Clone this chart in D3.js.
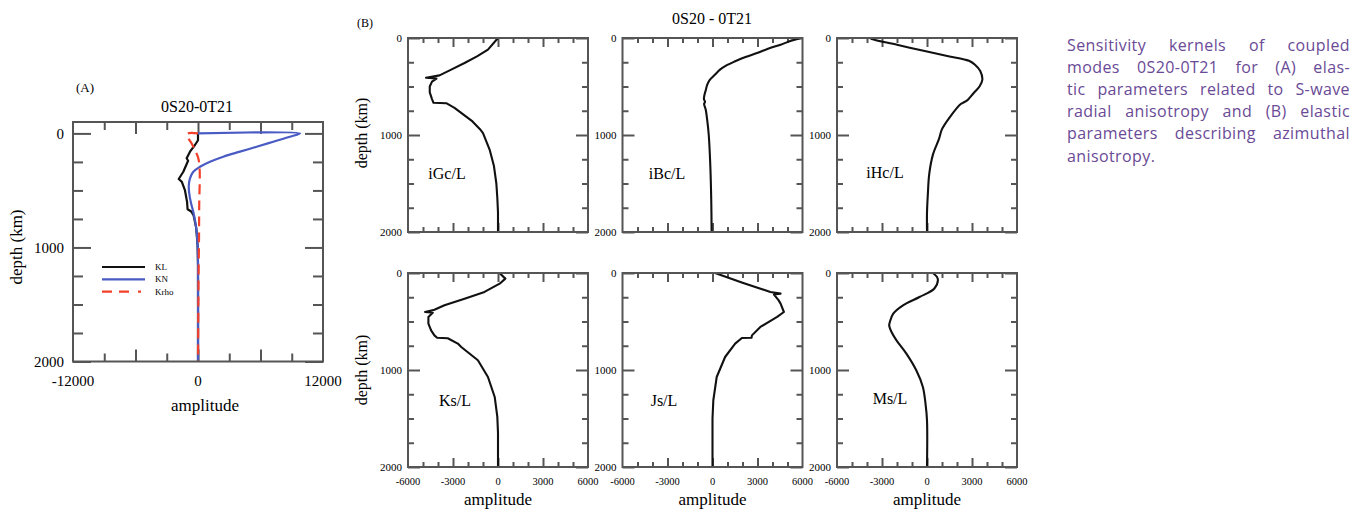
<!DOCTYPE html>
<html><head><meta charset="utf-8">
<script src="https://cdn.jsdelivr.net/npm/d3@7"></script>
<style>body{margin:0;background:#fff}svg{display:block}</style>
</head><body>
<svg id="c" width="1362" height="510"></svg>
<script>
// ---------- DATA: [amplitude, depth(km)] ----------
// Panel (A)
const KL   = [[0,0],[0,60],[-290,102],[-770,160],[-1090,218],[-950,240],[-1410,336],[-1850,400],[-1550,425],[-1250,500],[-1050,600],[-1000,665],[-650,685],[-420,720],[-170,830],[-40,980],[0,1150],[0,2000]];
const KN   = [[0,0],[9800,0],[8830,29],[7230,73],[5630,117],[4030,160],[2430,204],[1150,248],[190,292],[-450,336],[-770,394],[-880,453],[-850,520],[-700,600],[-420,700],[-170,830],[-40,980],[0,1150],[0,2000]];
const Krho = [[0,0],[-1000,2],[-930,40],[-600,90],[-290,145],[30,218],[150,300],[170,400],[120,600],[100,900],[50,1300],[20,1700],[0,2000]];
const seriesA = ["KL","KN","Krho"];
// Panel (B)
const iGcL = [[0,0],[-670,120],[-1400,190],[-2230,258],[-3120,326],[-3900,385],[-4800,410],[-4100,418],[-4400,450],[-4550,500],[-4550,560],[-4400,630],[-4300,668],[-3450,672],[-2900,720],[-2300,790],[-1700,860],[-1200,940],[-1000,980],[-560,1150],[-270,1320],[-110,1500],[-45,1650],[0,1800],[0,2000]];
const iBcL = [[0,0],[5880,0],[5300,25],[4540,69],[3700,110],[2970,155],[2200,195],[1510,240],[900,285],[500,326],[150,380],[-170,430],[-350,480],[-440,533],[-540,590],[-570,630],[-500,660],[-560,680],[-450,740],[-350,850],[-250,1000],[-150,1300],[-80,1700],[-60,2000]];
const iHcL = [[0,0],[-3800,3],[-2000,70],[0,140],[1500,190],[2500,222],[2800,235],[3200,275],[3550,340],[3690,430],[3500,500],[3100,570],[2700,640],[2400,668],[2250,680],[1500,820],[1000,940],[800,1040],[400,1200],[150,1400],[60,1600],[0,1800],[0,2000]];
const KsL  = [[100,0],[490,58],[110,110],[-900,195],[-2230,265],[-3570,333],[-4240,378],[-4860,402],[-4350,410],[-4640,453],[-4640,522],[-4460,591],[-4240,643],[-4060,667],[-3350,673],[-2680,728],[-2450,763],[-1340,900],[-670,1072],[-220,1278],[-45,1484],[0,1650],[0,2000]];
const JsL  = [[170,0],[2000,100],[3860,196],[4540,213],[4100,222],[4400,280],[4540,316],[4760,402],[4310,453],[3190,556],[2630,643],[2600,667],[1960,670],[1510,728],[840,866],[280,1072],[55,1312],[0,1500],[0,2000]];
const MsL  = [[385,0],[715,58],[490,160],[-500,247],[-1600,333],[-2250,419],[-2475,505],[-2520,540],[-2365,608],[-2035,694],[-1375,831],[-715,1003],[-275,1175],[-100,1347],[0,1520],[0,2000]];
const panelLabelsB = ["iGc/L","iBc/L","iHc/L","Ks/L","Js/L","Ms/L"];
// tick labels
const xTicksA = [-12000, 0, 12000];
const yTicksA = [0, 1000, 2000];
const xTicksB = [-6000, -3000, 0, 3000, 6000];
const yTicksB = [0, 1000, 2000];
const captionLines = [
  "Sensitivity kernels of coupled",
  "modes 0S20-0T21 for (A) elas-",
  "tic parameters related to S-wave",
  "radial anisotropy and (B) elastic",
  "parameters describing azimuthal",
  "anisotropy."
];

// ---------- DRAWING ----------
const svg = d3.select("#c");
const serif = "Liberation Serif, serif";
const frameColor = "#555";
let clipN = 0;

function drawPanel(cfg) {
  const g = svg.append("g");
  const x = d3.scaleLinear().domain(cfg.xDomain).range([cfg.left, cfg.right]);
  const y = d3.scaleLinear().domain(cfg.yDomain).range([cfg.top, cfg.bottom]);
  const cid = "clip" + (clipN++);
  svg.append("clipPath").attr("id", cid).append("rect")
    .attr("x", cfg.left).attr("y", cfg.top)
    .attr("width", cfg.right - cfg.left).attr("height", cfg.bottom - cfg.top);

  const tickSet = (vals, len, w) => {
    const ax = [
      [d3.axisTop(x), `translate(0,${cfg.top})`, vals.x],
      [d3.axisBottom(x), `translate(0,${cfg.bottom})`, vals.x],
      [d3.axisLeft(y), `translate(${cfg.left},0)`, vals.y],
      [d3.axisRight(y), `translate(${cfg.right},0)`, vals.y]
    ];
    ax.forEach(([a, tr, v], i) => {
      const L = i < 2 ? len.x : len.y;
      g.append("g").attr("transform", tr)
        .call(a.tickValues(v).tickSize(-L).tickFormat(""))
        .call(s => s.select(".domain").remove())
        .selectAll("line").attr("stroke", frameColor).attr("stroke-width", w);
    });
  };
  const inner = (arr) => arr.filter(v => v > Math.min(...cfg.xDomain) && v < Math.max(...cfg.xDomain));
  const xs = d3.range(cfg.xDomain[0], cfg.xDomain[1] + 1, cfg.xStep);
  const ys = d3.range(0, 2001, cfg.yStep);
  const xMaj = inner(xs.filter(v => v % cfg.xMajor === 0));
  const xMin = inner(xs.filter(v => v % cfg.xMajor !== 0));
  const yMaj = ys.filter(v => v % 1000 === 0);
  const yMin = ys.filter(v => v % 1000 !== 0);
  tickSet({x: xMin, y: yMin}, {x: cfg.xMinLen, y: cfg.yMinLen}, cfg.tickW);
  tickSet({x: xMaj, y: yMaj}, {x: cfg.xMajLen, y: cfg.yMajLen}, cfg.tickW);

  const line = d3.line().x(d => x(d[0])).y(d => y(d[1]));
  cfg.series.forEach(s => {
    g.append("path").attr("d", line.curve(s.curve || d3.curveLinear)(s.data))
      .attr("fill", "none").attr("stroke", s.color).attr("stroke-width", s.width || 2)
      .attr("stroke-dasharray", s.dash || null)
      .attr("stroke-linejoin", "round")
      .attr("clip-path", `url(#${cid})`);
  });

  g.append("rect").attr("x", cfg.left).attr("y", cfg.top)
    .attr("width", cfg.right - cfg.left).attr("height", cfg.bottom - cfg.top)
    .attr("fill", "none").attr("stroke", frameColor).attr("stroke-width", cfg.frameW);

  if (cfg.yLabels) {
    cfg.yLabels.forEach(v => g.append("text").attr("x", cfg.left - cfg.yLabPad).attr("y", y(v))
      .attr("dy", "0.35em").attr("text-anchor", "end")
      .attr("font-family", serif).attr("font-size", cfg.yLabSize).text(v));
  }
  if (cfg.xLabels) {
    cfg.xLabels.forEach(v => g.append("text").attr("x", x(v)).attr("y", cfg.xLabY)
      .attr("text-anchor", "middle")
      .attr("font-family", serif).attr("font-size", cfg.xLabSize).text(v));
  }
  return {x, y, g};
}

// ----- Panel A -----
const colorsA = {KL: "#111", KN: "#4a5cc4", Krho: "#f2402a"};
drawPanel({
  left: 73, right: 323, top: 122, bottom: 361.5,
  xDomain: [-12000, 12000], yDomain: [-100, 2000],
  xStep: 3000, xMajor: 6000, yStep: 250,
  xMinLen: 8, xMajLen: 12, yMinLen: 10, yMajLen: 18,
  tickW: 2, frameW: 2,
  series: [
    {data: KL, color: colorsA.KL, width: 2.2},
    {data: KN, color: colorsA.KN, width: 2.2, curve: d3.curveCatmullRom.alpha(0.5)},
    {data: Krho, color: colorsA.Krho, width: 2.2, dash: "10,6", curve: d3.curveCatmullRom.alpha(0.5)}
  ],
  yLabels: yTicksA, yLabPad: 9, yLabSize: 15,
  xLabels: xTicksA, xLabY: 386, xLabSize: 15
});
svg.append("text").attr("x", 85).attr("y", 92).attr("text-anchor", "middle")
  .attr("font-family", serif).attr("font-size", 13).text("(A)");
svg.append("text").attr("x", 197).attr("y", 112).attr("text-anchor", "middle")
  .attr("font-family", serif).attr("font-size", 16).text("0S20-0T21");
svg.append("text").attr("x", 205).attr("y", 411).attr("text-anchor", "middle")
  .attr("font-family", serif).attr("font-size", 17).text("amplitude");
svg.append("text").attr("transform", "translate(22,247) rotate(-90)").attr("text-anchor", "middle")
  .attr("font-family", serif).attr("font-size", 17).text("depth (km)");
// legend
seriesA.forEach((k, i) => {
  const yy = 267 + i * 12.3;
  svg.append("line").attr("x1", 102).attr("x2", 145).attr("y1", yy).attr("y2", yy)
    .attr("stroke", colorsA[k]).attr("stroke-width", 2.2)
    .attr("stroke-dasharray", k === "Krho" ? "10,7,10,9,3,7" : null);
  svg.append("text").attr("x", 155).attr("y", yy + 3).attr("font-family", serif)
    .attr("font-size", 9).text(k);
});

// ----- Panel B -----
const dataB = [iGcL, iBcL, iHcL, KsL, JsL, MsL];
const colLeft = [408, 622.5, 837];
const rowTop = [38, 273];
const labPos = [[447,179],[667,179],[885,178],[455,406],[664,406],[890,404]];
dataB.forEach((d, i) => {
  const c = i % 3, r = Math.floor(i / 3);
  const smooth = (i === 1 || i === 2 || i === 5);
  drawPanel({
    left: colLeft[c], right: colLeft[c] + 180, top: rowTop[r], bottom: rowTop[r] + 194,
    xDomain: [-6000, 6000], yDomain: [0, 2000],
    xStep: 1000, xMajor: 3000, yStep: 250,
    xMinLen: 5, xMajLen: 9, yMinLen: 6, yMajLen: 12,
    tickW: 2, frameW: 2,
    series: [{data: d, color: "#111", width: 2.1, curve: smooth ? d3.curveCatmullRom.alpha(0.5) : d3.curveLinear}],
    yLabels: yTicksB, yLabPad: 6, yLabSize: 11,
    xLabels: r === 1 ? xTicksB : null, xLabY: 485, xLabSize: 10.5
  });
  svg.append("text").attr("x", labPos[i][0]).attr("y", labPos[i][1]).attr("text-anchor", "middle")
    .attr("font-family", serif).attr("font-size", 16).text(panelLabelsB[i]);
  if (r === 1) {
    svg.append("text").attr("x", colLeft[c] + 90).attr("y", 505).attr("text-anchor", "middle")
      .attr("font-family", serif).attr("font-size", 17).text("amplitude");
  }
});
svg.append("text").attr("x", 365).attr("y", 27).attr("text-anchor", "middle")
  .attr("font-family", serif).attr("font-size", 12).text("(B)");
svg.append("text").attr("x", 712).attr("y", 24).attr("text-anchor", "middle")
  .attr("font-family", serif).attr("font-size", 16).text("0S20 - 0T21");
[133, 370].forEach(cy => svg.append("text").attr("transform", `translate(367,${cy}) rotate(-90)`)
  .attr("text-anchor", "middle").attr("font-family", serif).attr("font-size", 16).text("depth (km)"));

// ----- Caption (justified) -----
const capG = svg.append("g").attr("font-family", "Open Sans, sans-serif")
  .attr("font-size", 16).attr("letter-spacing", "0.4px").attr("fill", "#6a4a96");
const capX0 = 1067, capW = 283;
captionLines.forEach((ln, i) => {
  const words = ln.split(" ");
  const yb = 51 + i * 22.1;
  const ts = words.map(w => capG.append("text").attr("y", yb).text(w));
  const ws = ts.map(t => t.node().getComputedTextLength());
  const last = i === captionLines.length - 1;
  const gap = last ? 4.5 : (capW - d3.sum(ws)) / (words.length - 1);
  let xx = capX0;
  ts.forEach((t, j) => { t.attr("x", xx); xx += ws[j] + gap; });
});
</script>
</body></html>
